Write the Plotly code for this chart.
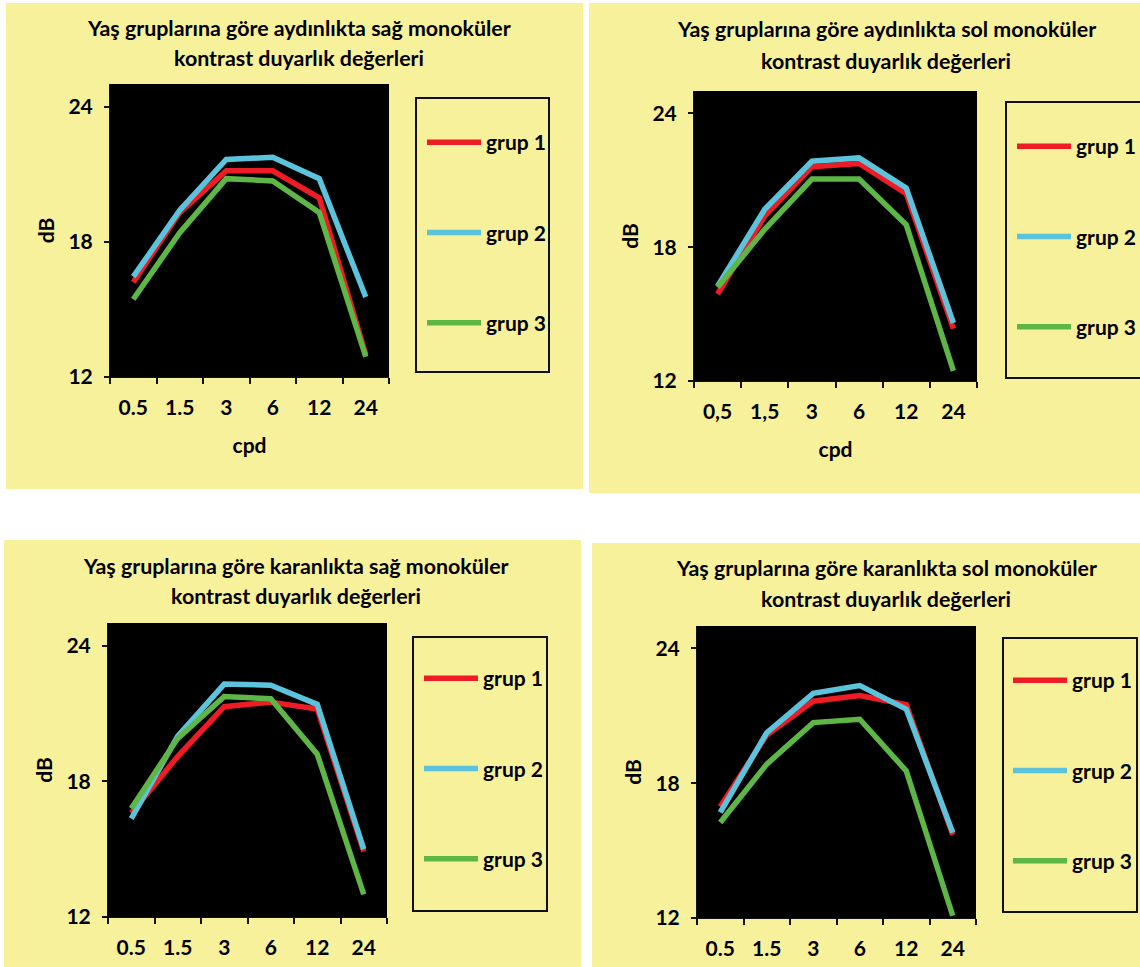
import plotly.graph_objects as go

# ---------------- data ----------------
cpd_dot = ["0.5", "1.5", "3", "6", "12", "24"]
cpd_comma = ["0,5", "1,5", "3", "6", "12", "24"]
series_names = ["grup 1", "grup 2", "grup 3"]

# aydınlıkta sağ
light_right_g1 = [16.2, 19.3, 21.15, 21.15, 19.95, 13.0]
light_right_g2 = [16.45, 19.4, 21.65, 21.75, 20.8, 15.55]
light_right_g3 = [15.45, 18.4, 20.8, 20.7, 19.3, 12.9]
# aydınlıkta sol
light_left_g1 = [15.9, 19.4, 21.6, 21.75, 20.4, 14.35]
light_left_g2 = [16.25, 19.7, 21.85, 22.0, 20.65, 14.6]
light_left_g3 = [16.2, 18.8, 21.05, 21.05, 19.0, 12.45]
# karanlıkta sağ
dark_right_g1 = [16.6, 19.1, 21.3, 21.5, 21.2, 14.9]
dark_right_g2 = [16.35, 20.0, 22.3, 22.25, 21.4, 15.0]
dark_right_g3 = [16.8, 19.9, 21.75, 21.65, 19.2, 13.0]
# karanlıkta sol
dark_left_g1 = [16.95, 20.15, 21.65, 21.9, 21.5, 15.7]
dark_left_g2 = [16.7, 20.25, 22.0, 22.35, 21.3, 15.8]
dark_left_g3 = [16.25, 18.85, 20.7, 20.85, 18.55, 12.1]

titles = [
    ("Yaş gruplarına göre aydınlıkta sağ monoküler", "kontrast duyarlık değerleri"),
    ("Yaş gruplarına göre aydınlıkta sol monoküler", "kontrast duyarlık değerleri"),
    ("Yaş gruplarına göre karanlıkta sağ monoküler", "kontrast duyarlık değerleri"),
    ("Yaş gruplarına göre karanlıkta sol monoküler", "kontrast duyarlık değerleri"),
]
y_ticks = [12, 18, 24]
y_title = "dB"
x_title = "cpd"

# ---------------- styling / layout ----------------
W, H = 1140, 967
FONT = "Lato, 'Open Sans', sans-serif"
FS = 21
TFS = 21.4
COLORS = ["#EE1D25", "#5BC4DC", "#5DB646"]
YELLOW = "#F7F19B"
BOLD = dict(family=FONT, size=FS, color="black", weight="bold")


def fx(x):
    return x / W


def fy(y):
    return 1 - y / H


panels = [
    dict(cats=cpd_dot, data=[light_right_g1, light_right_g2, light_right_g3],
         bg=(6, 3, 583, 489), plot=(110, 84, 389, 377), legbox=(416, 98, 549, 372),
         leg=(427, 122), title_x=299, title_y=(28, 58), xtitle=True),
    dict(cats=cpd_comma, data=[light_left_g1, light_left_g2, light_left_g3],
         bg=(589, 3, 1150, 493), plot=(694, 91, 977, 381), legbox=(1006, 102, 1160, 378),
         leg=(1017, 126), title_x=886, title_y=(29, 61), xtitle=True),
    dict(cats=cpd_dot, data=[dark_right_g1, dark_right_g2, dark_right_g3],
         bg=(4, 540, 581, 970), plot=(108, 623, 387, 917), legbox=(413, 637, 547, 911),
         leg=(424, 658), title_x=296, title_y=(566, 596), xtitle=False),
    dict(cats=cpd_dot, data=[dark_left_g1, dark_left_g2, dark_left_g3],
         bg=(592, 543, 1150, 970), plot=(697, 626, 976, 918), legbox=(1003, 638, 1137, 912),
         leg=(1013, 660), title_x=886, title_y=(568, 599), xtitle=False),
]

fig = go.Figure()
shapes = []
annotations = []
layout = dict(
    width=W, height=H,
    margin=dict(l=0, r=0, t=0, b=0, autoexpand=False),
    paper_bgcolor="white",
    plot_bgcolor="black",
    font=BOLD,
    showlegend=True,
)

for i, p in enumerate(panels):
    n = i + 1
    sfx = "" if n == 1 else str(n)
    xa, ya, lg = "x" + sfx, "y" + sfx, "legend" + sfx
    for j, vals in enumerate(p["data"]):
        fig.add_trace(go.Scatter(
            x=p["cats"], y=vals, mode="lines", name=series_names[j],
            line=dict(color=COLORS[j], width=5.5),
            xaxis=xa, yaxis=ya, legend=lg, legendgroup=f"p{n}g{j}",
        ))
    x0, y0, x1, y1 = p["plot"]
    layout["xaxis" + sfx] = dict(
        domain=[fx(x0), fx(x1)], anchor=ya, type="category",
        categoryorder="array", categoryarray=p["cats"], range=[-0.5, 5.5],
        showgrid=False, zeroline=False, showline=True, linecolor="#111", linewidth=1,
        ticks="outside", tickson="boundaries", ticklen=6, tickwidth=1.5, tickcolor="#111",
        ticklabelstandoff=12, tickfont=BOLD,
        title=dict(text=x_title if p["xtitle"] else "", standoff=20, font=BOLD),
        fixedrange=True,
    )
    layout["yaxis" + sfx] = dict(
        domain=[fy(y1), fy(y0)], anchor=xa, range=[12, 25],
        tickvals=y_ticks, showgrid=False, zeroline=False,
        showline=True, linecolor="#111", linewidth=1,
        ticks="outside", ticklen=5, tickwidth=1.5, tickcolor="#111",
        ticklabelstandoff=7, tickfont=BOLD,
        title=dict(text=y_title, standoff=8, font=BOLD),
        fixedrange=True,
    )
    lx, ly = p["leg"]
    layout[lg] = dict(
        x=fx(lx - 5), y=fy(ly), xanchor="left", yanchor="top",
        bgcolor="rgba(0,0,0,0)", borderwidth=0,
        font=BOLD,
        tracegroupgap=60, itemwidth=54,
    )
    bx0, by0, bx1, by1 = p["bg"]
    shapes.append(dict(type="rect", xref="paper", yref="paper", layer="below",
                       x0=fx(bx0), x1=fx(bx1), y0=fy(by1), y1=fy(by0),
                       fillcolor=YELLOW, line=dict(width=0)))
    shapes.append(dict(type="rect", xref=xa + " domain", yref=ya + " domain", layer="below",
                       x0=0, x1=1, y0=0, y1=1, fillcolor="black", line=dict(width=0)))
    gx0, gy0, gx1, gy1 = p["legbox"]
    shapes.append(dict(type="rect", xref="paper", yref="paper", layer="below",
                       x0=fx(gx0), x1=fx(gx1), y0=fy(gy1), y1=fy(gy0),
                       fillcolor="rgba(0,0,0,0)", line=dict(color="#111", width=2)))
    for k, line in enumerate(titles[i]):
        annotations.append(dict(
            text=line, xref="paper", yref="paper", x=fx(p["title_x"]), y=fy(p["title_y"][k]),
            xanchor="center", yanchor="middle", showarrow=False,
            font=dict(family=FONT, size=TFS, color="black", weight="bold"),
        ))

layout["shapes"] = shapes
layout["annotations"] = annotations
fig.update_layout(**layout)
fig.write_html("out.html", config={"displayModeBar": False},
               post_script="document.body.style.margin='0px';")
